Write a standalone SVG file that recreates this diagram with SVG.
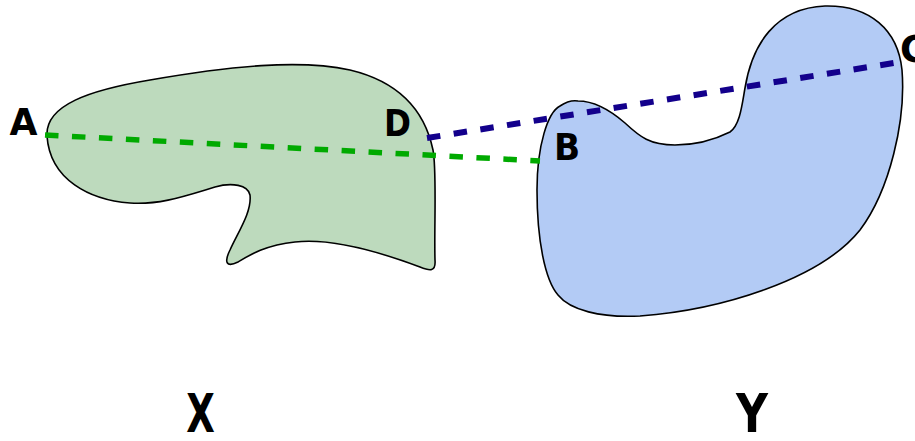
<svg xmlns="http://www.w3.org/2000/svg" width="915" height="441" viewBox="0 0 915 441">
<style>
.shape{stroke:#000;stroke-width:1.6;stroke-linejoin:round}
.lbl{font-family:"DejaVu Sans","Liberation Sans",sans-serif;font-weight:bold;fill:#000}
.dash{fill:none;stroke-dasharray:13.5 13.5}
</style>
<rect width="915" height="441" fill="#fff"/>
<g id="X">
<path class="shape" fill="#bddabd" d="M 47,136 C 45,105 90,90 150,80 C 230,66 300,59 350,70 C 400,82 425,112 433,150 C 437,170 434,230 435,260 C 436,272 430,271 420,267 C 380,252 330,238 295,242 C 265,245 248,256 238,262 C 226,268 224,262 230,250 C 238,232 252,212 250,195 C 248,185 232,182 215,187 C 185,196 160,205 130,203 C 90,200 50,180 47,136 Z"/>
<text class="lbl" x="186.3" y="432" font-size="53" textLength="28.6" lengthAdjust="spacingAndGlyphs">X</text>
</g>
<g id="Y">
<path class="shape" fill="#b3cbf5" d="M 578,101 C 595,101 610,110 625,123 C 640,137 650,145 675,145 C 700,145 720,137 730,132 C 740,125 742,105 745,88 C 752,45 775,8 825,6 C 870,5 898,30 902,70 C 906,120 890,190 860,230 C 820,280 720,310 640,316 C 600,318 570,310 558,295 C 545,280 537,240 537,190 C 537,145 548,112 560,106 C 566,102 572,100 578,101 Z"/>
<text class="lbl" x="736" y="432" font-size="53" textLength="32" lengthAdjust="spacingAndGlyphs">Y</text>
</g>
<g id="connectors">
<line class="dash" x1="45" y1="135" x2="540" y2="161" stroke="#00aa00" stroke-width="5.5"/>
<line class="dash" x1="427" y1="138" x2="900" y2="62" stroke="#13008c" stroke-width="6"/>
</g>
<g id="A"><text class="lbl" x="9.5" y="135" font-size="37" textLength="28" lengthAdjust="spacingAndGlyphs">A</text></g>
<g id="D"><text class="lbl" x="384" y="136" font-size="37" textLength="27" lengthAdjust="spacingAndGlyphs">D</text></g>
<g id="B"><text class="lbl" x="554" y="160" font-size="37" textLength="26.2" lengthAdjust="spacingAndGlyphs">B</text></g>
<g id="C"><text class="lbl" x="900" y="62" font-size="37">C</text></g>
</svg>
